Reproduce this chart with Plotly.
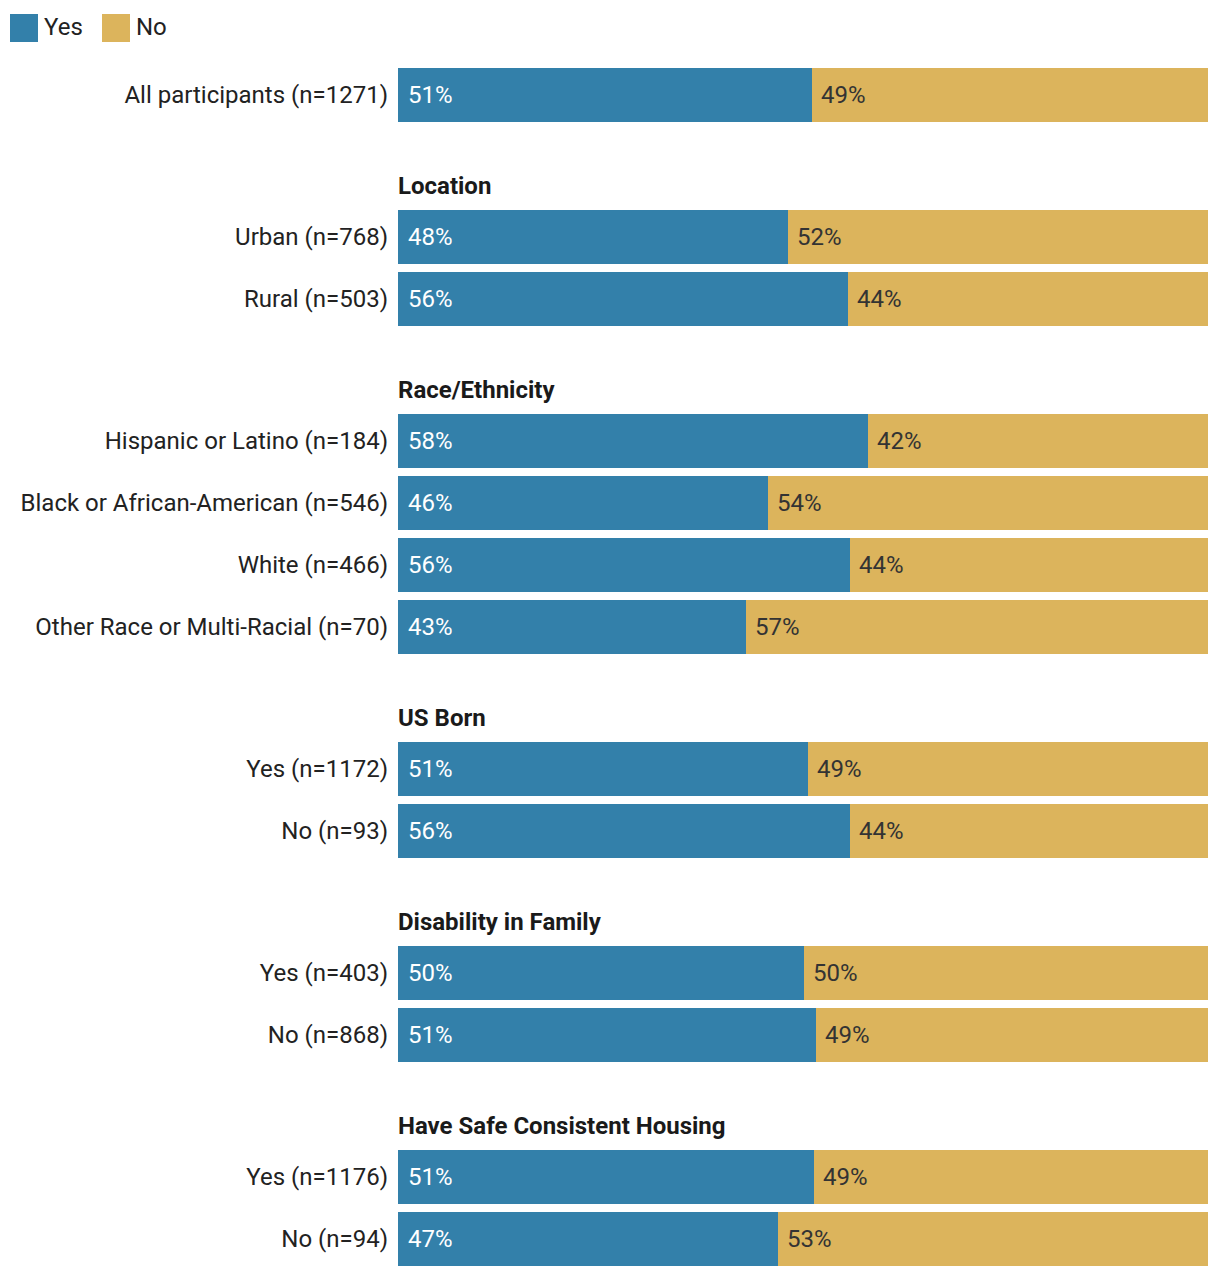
import plotly.graph_objects as go

# ---- data ----
group_names = [None, "Location", "Race/Ethnicity", "US Born", "Disability in Family",
               "Have Safe Consistent Housing"]
group_sizes = [1, 2, 4, 2, 2, 2]
categories = [
    "All participants (n=1271)",
    "Urban (n=768)", "Rural (n=503)",
    "Hispanic or Latino (n=184)", "Black or African-American (n=546)",
    "White (n=466)", "Other Race or Multi-Racial (n=70)",
    "Yes (n=1172)", "No (n=93)",
    "Yes (n=403)", "No (n=868)",
    "Yes (n=1176)", "No (n=94)",
]
yes_pct = [51.1, 48.1, 55.6, 58.0, 45.7, 55.8, 43.0, 50.6, 55.8, 50.1, 51.6, 51.4, 46.9]
no_pct = [round(100 - v, 1) for v in yes_pct]
yes_labels = ["51%", "48%", "56%", "58%", "46%", "56%", "43%", "51%", "56%", "50%", "51%", "51%", "47%"]
no_labels = ["49%", "52%", "44%", "42%", "54%", "44%", "57%", "49%", "44%", "50%", "49%", "49%", "53%"]
series_names = ["Yes", "No"]

# ---- style ----
C_YES = "#3380aa"
C_NO = "#dcb45c"
FONT = "Roboto"
TXT = "#222222"
FS = 24

ROW = 1.0
GROUP_GAP = 142 / 62
BAR_W = 54 / 62
HEAD_OFF = 51 / 62

# page offset (browser body margin)
OFF = 8
FIG_W, FIG_H = 1220 - 2 * OFF, 1278 - 2 * OFF
PLOT_L, PLOT_R = 398, 1208          # page px
PLOT_T, PLOT_B = 60, 1270           # page px
FIRST_CENTER = 95                   # page px
PITCH = 62

# row positions from group structure
positions = []
header_pos = []
pos = None
for gi, (gname, gsize) in enumerate(zip(group_names, group_sizes)):
    for k in range(gsize):
        if pos is None:
            pos = 0.0
        elif k == 0:
            pos += GROUP_GAP
        else:
            pos += ROW
        positions.append(pos)
        if k == 0 and gname:
            header_pos.append((gname, pos - HEAD_OFF))

fig = go.Figure()
fig.add_trace(go.Bar(y=positions, x=yes_pct, orientation="h", name=series_names[0],
                     marker=dict(color=C_YES, line=dict(width=0)), width=BAR_W,
                     hoverinfo="skip"))
fig.add_trace(go.Bar(y=positions, x=no_pct, orientation="h", name=series_names[1],
                     marker=dict(color=C_NO, line=dict(width=0)), width=BAR_W,
                     hoverinfo="skip"))

annotations = []
for p, yv, yl, nl in zip(positions, yes_pct, yes_labels, no_labels):
    annotations.append(dict(x=0, y=p, xref="x", yref="y", text=yl, showarrow=False,
                            xanchor="left", xshift=8, yshift=0,
                            font=dict(family=FONT, size=FS, color="white")))
    annotations.append(dict(x=yv, y=p, xref="x", yref="y", text=nl, showarrow=False,
                            xanchor="left", xshift=7, yshift=0,
                            font=dict(family=FONT, size=FS, color="#333333")))
for name, hp in header_pos:
    annotations.append(dict(x=0, y=hp, xref="paper", yref="y", text="<b>" + name + "</b>",
                            showarrow=False, xanchor="left", xshift=-2,
                            font=dict(family=FONT, size=FS, color="#1a1a1a")))

# custom legend (top-left), positions given in page px
PW = float(PLOT_R - PLOT_L)
PH = float(PLOT_B - PLOT_T)
def px_x(px):
    return (px - PLOT_L) / PW
def px_y(py):
    return 1 - (py - PLOT_T) / PH

shapes = []
leg_items = [(series_names[0], C_YES, 10), (series_names[1], C_NO, 102)]
for name, col, x0 in leg_items:
    shapes.append(dict(type="rect", xref="paper", yref="paper",
                       x0=px_x(x0), x1=px_x(x0 + 28), y0=px_y(42), y1=px_y(14),
                       fillcolor=col, line=dict(width=0), layer="above"))
    annotations.append(dict(x=px_x(x0 + 32), y=px_y(27), xref="paper", yref="paper",
                            text=name, showarrow=False, xanchor="left", yanchor="middle",
                            font=dict(family=FONT, size=FS, color=TXT)))

fig.update_layout(
    barmode="stack",
    width=FIG_W, height=FIG_H,
    margin=dict(l=PLOT_L - OFF, r=FIG_W - (PLOT_R - OFF), t=PLOT_T - OFF,
                b=FIG_H - (PLOT_B - OFF)),
    plot_bgcolor="white", paper_bgcolor="white",
    showlegend=False,
    font=dict(family=FONT, size=FS, color=TXT),
    annotations=annotations,
    shapes=shapes,
    xaxis=dict(range=[0, 100], visible=False, fixedrange=True),
    yaxis=dict(range=[(PLOT_B - FIRST_CENTER) / PITCH, (PLOT_T - FIRST_CENTER) / PITCH],
               tickmode="array", tickvals=positions, ticktext=categories, showgrid=False,
               zeroline=False, showline=False, ticks="", ticklabelstandoff=9,
               tickfont=dict(family=FONT, size=FS, color=TXT)),
)

fig.write_html("out.html")
